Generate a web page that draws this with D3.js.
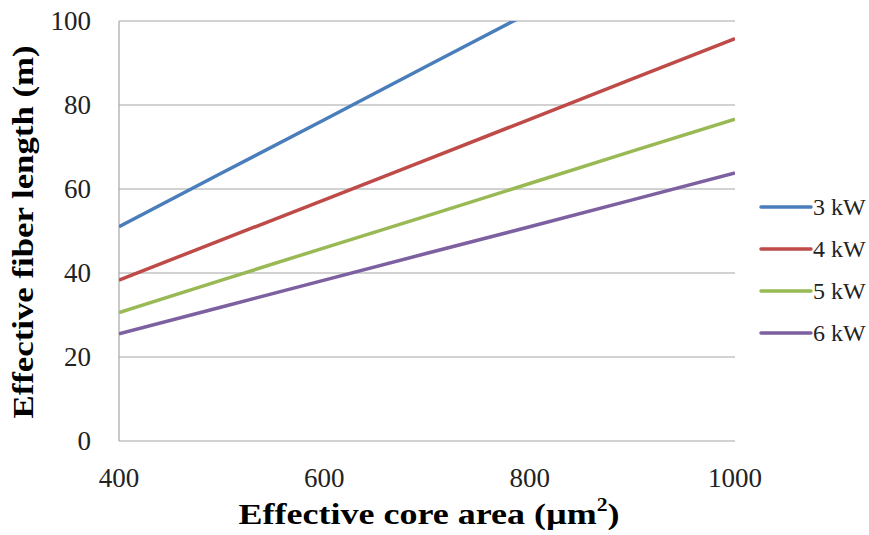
<!DOCTYPE html>
<html>
	<head>
		<meta charset="utf-8">
		<title>Effective fiber length</title>
		<script src="https://cdn.jsdelivr.net/npm/d3@7"></script>
		<style>
			body { margin: 0; background: #fff; }
		</style>
	</head>
	<body>
		<div id='viz'></div>
		<script>
			var width = 869,
				height = 535;
			// data
			var areas = [400, 500, 600, 700, 800, 900, 1000];
			var seriesNames = ['3 kW', '4 kW', '5 kW', '6 kW'];
			var len3kW = [51.0, 63.8, 76.5, 89.3, 102.0, 114.8, 127.5];
			var len4kW = [38.3, 47.9, 57.4, 67.0, 76.6, 86.2, 95.8];
			var len5kW = [30.6, 38.3, 46.0, 53.6, 61.3, 69.0, 76.6];
			var len6kW = [25.5, 31.9, 38.3, 44.7, 51.0, 57.4, 63.8];
			var xTicks = [400, 600, 800, 1000];
			var yTicks = [0, 20, 40, 60, 80, 100];
			var colorList = ['#4a7ebb', '#be4b48', '#98b954', '#7d60a0'];
			var serif = '"Liberation Serif", "Times New Roman", "DejaVu Serif", serif';

			var series = [len3kW, len4kW, len5kW, len6kW].map((vals, i) => ({
				name: seriesNames[i],
				points: vals.map((v, j) => [areas[j], v])
			}));

			var margin = {left: 119, right: 134, top: 21, bottom: 94};
			var x = d3.scaleLinear().domain([400, 1000]).range([margin.left, width - margin.right]);
			var y = d3.scaleLinear().domain([0, 100]).range([height - margin.bottom, margin.top]);

			var svg = d3.select('#viz')
				.append('svg')
				.attr('width', width)
				.attr('height', height)
				.attr('font-family', serif)
				.style('font-family', serif);

			svg.append('clipPath').attr('id', 'plotclip')
				.append('rect')
				.attr('x', x(400)).attr('y', y(100))
				.attr('width', x(1000) - x(400)).attr('height', y(0) - y(100));

			// grid lines
			svg.append('g')
				.selectAll('line')
				.data(yTicks)
				.join('line')
				.attr('x1', x(400)).attr('x2', x(1000))
				.attr('y1', d => y(d)).attr('y2', d => y(d))
				.attr('stroke', '#a6a6a6')
				.attr('stroke-width', 1.2);
			// left axis
			svg.append('line')
				.attr('x1', x(400)).attr('x2', x(400))
				.attr('y1', y(0)).attr('y2', y(100))
				.attr('stroke', '#a6a6a6')
				.attr('stroke-width', 1.2);

			// y tick labels
			svg.append('g')
				.attr('font-size', 27)
				.attr('text-anchor', 'end')
				.attr('fill', '#222')
				.selectAll('text')
				.data(yTicks)
				.join('text')
				.attr('x', 91)
				.attr('y', d => y(d))
				.attr('dy', '0.33em')
				.text(d => d);
			// x tick labels
			svg.append('g')
				.attr('font-size', 27)
				.attr('text-anchor', 'middle')
				.attr('fill', '#222')
				.selectAll('text')
				.data(xTicks)
				.join('text')
				.attr('x', d => x(d))
				.attr('y', 478)
				.attr('dy', '0.33em')
				.text(d => d);

			var line = d3.line().x(d => x(d[0])).y(d => y(d[1]));
			svg.append('g')
				.attr('clip-path', 'url(#plotclip)')
				.selectAll('path')
				.data(series)
				.join('path')
				.attr('fill', 'none')
				.attr('stroke', (d, i) => colorList[i])
				.attr('stroke-width', 3.5)
				.attr('d', d => line(d.points));

			// legend
			var legend = svg.append('g')
				.selectAll('g')
				.data(series)
				.join('g')
				.attr('transform', (d, i) => `translate(761,${207 + i * 42})`);
			legend.append('line')
				.attr('x1', 0).attr('x2', 50)
				.attr('stroke', (d, i) => colorList[i])
				.attr('stroke-width', 3.5)
				.attr('stroke-linecap', 'round');
			legend.append('text')
				.attr('x', 52)
				.attr('dy', '0.33em')
				.attr('font-size', 24)
				.attr('fill', '#222')
				.text(d => d.name);

			// axis titles
			var xt = svg.append('text')
				.attr('transform', `translate(${(x(400) + x(1000)) / 2 + 2},524) scale(1.2,1)`)
				.attr('text-anchor', 'middle')
				.attr('font-size', 30)
				.attr('font-weight', 'bold');
			xt.append('tspan').text('Effective core area (µm');
			xt.append('tspan').attr('font-size', 18).attr('dy', '-0.75em').text('2');
			xt.append('tspan').attr('dy', '0.45em').text(')');

			svg.append('text')
				.attr('transform', 'translate(33,232) rotate(-90) scale(1.16,1)')
				.attr('text-anchor', 'middle')
				.attr('font-size', 30)
				.attr('font-weight', 'bold')
				.text('Effective fiber length (m)');
		</script>
	</body>
</html>
